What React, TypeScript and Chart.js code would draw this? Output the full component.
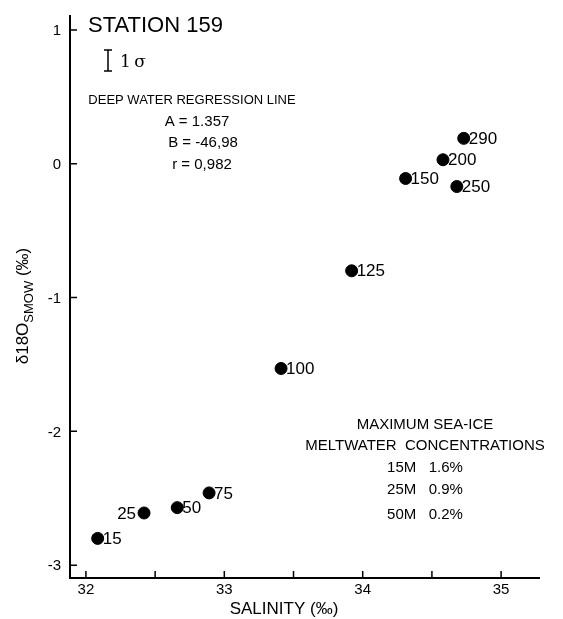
import React, { useEffect, useRef } from 'react';
import { Chart, registerables } from 'chart.js';

Chart.register(...registerables);

const depthLabels = ['15', '25', '50', '75', '100', '125', '150', '200', '250', '290'];
const salinity = [32.085, 32.42, 32.66, 32.89, 33.41, 33.92, 34.31, 34.58, 34.68, 34.73];
const delta18O = [-2.8, -2.61, -2.57, -2.46, -1.53, -0.8, -0.11, 0.03, -0.17, 0.19];
const leftLabelled = ['25'];
const xTicks = [32, 32.5, 33, 33.5, 34, 34.5, 35];
const xTickLabels = ['32', '', '33', '', '34', '', '35'];
const yTicks = [1, 0, -1, -2, -3];
const yTickLabels = ['1', '0', '-1', '-2', '-3'];

const titleText = 'STATION 159';
const xTitle = 'SALINITY (\u2030)';
const regressionLines = ['DEEP WATER REGRESSION LINE', 'A = 1.357', 'B = -46,98', 'r = 0,982'];
const meltLines = ['MAXIMUM SEA-ICE', 'MELTWATER  CONCENTRATIONS', '15M   1.6%', '25M   0.9%', '50M   0.2%'];

const FONT = '"Liberation Sans", Arial, sans-serif';

const decorPlugin = {
  id: 'decor',
  afterDraw(chart: any) {
    const ctx = chart.ctx;
    const xs = chart.scales.x;
    const ys = chart.scales.y;
    const area = chart.chartArea;
    ctx.save();
    ctx.strokeStyle = '#000';
    ctx.fillStyle = '#000';
    // axis lines
    ctx.lineWidth = 2;
    ctx.beginPath();
    ctx.moveTo(area.left, area.top);
    ctx.lineTo(area.left, area.bottom);
    ctx.lineTo(area.right, area.bottom);
    ctx.stroke();
    // inward ticks
    ctx.lineWidth = 1.5;
    ctx.beginPath();
    xTicks.forEach((v) => {
      const px = xs.getPixelForValue(v);
      ctx.moveTo(px, area.bottom);
      ctx.lineTo(px, area.bottom - 7);
    });
    yTicks.forEach((v) => {
      const py = ys.getPixelForValue(v);
      ctx.moveTo(area.left, py);
      ctx.lineTo(area.left + 7, py);
    });
    ctx.stroke();

    // tick labels
    ctx.font = `15px ${FONT}`;
    ctx.textBaseline = 'middle';
    ctx.textAlign = 'center';
    xTicks.forEach((v, i) => {
      if (xTickLabels[i]) ctx.fillText(xTickLabels[i], xs.getPixelForValue(v), area.bottom + 12);
    });
    ctx.textAlign = 'right';
    yTicks.forEach((v, i) => {
      ctx.fillText(yTickLabels[i], area.left - 9, ys.getPixelForValue(v) + 1);
    });

    // point labels
    const meta = chart.getDatasetMeta(0);
    ctx.font = `17px ${FONT}`;
    meta.data.forEach((el: any, i: number) => {
      const lbl = depthLabels[i];
      if (leftLabelled.includes(lbl)) {
        ctx.textAlign = 'right';
        ctx.fillText(lbl, el.x - 8, el.y + 1);
      } else {
        ctx.textAlign = 'left';
        ctx.fillText(lbl, el.x + 5, el.y + 1);
      }
    });

    // title
    ctx.textAlign = 'left';
    ctx.font = `22px ${FONT}`;
    ctx.fillText(titleText, 80, 18);

    // 1 sigma bar
    ctx.lineWidth = 1.5;
    ctx.beginPath();
    ctx.moveTo(100, 42); ctx.lineTo(100, 63);
    ctx.moveTo(96, 42); ctx.lineTo(104, 42);
    ctx.moveTo(96, 63); ctx.lineTo(104, 63);
    ctx.stroke();
    ctx.font = `17px "DejaVu Serif", serif`;
    ctx.fillText('1\u2009\u03c3', 112, 55);

    // regression block
    ctx.textAlign = 'center';
    ctx.font = `13px ${FONT}`;
    ctx.fillText(regressionLines[0], 184, 92);
    ctx.font = `15px ${FONT}`;
    const regY = [114, 135, 157];
    const regX = [189, 195, 194];
    regressionLines.slice(1).forEach((t, i) => ctx.fillText(t, regX[i], regY[i]));

    // meltwater block
    ctx.font = `15px ${FONT}`;
    const meltY = [417, 438, 460, 482, 507];
    meltLines.forEach((t, i) => ctx.fillText(t, 417, meltY[i]));

    // x axis title
    ctx.font = `17px ${FONT}`;
    ctx.fillText(xTitle, 276, 601);

    // y axis title (rotated, with subscript)
    ctx.save();
    ctx.translate(14, 298);
    ctx.rotate(-Math.PI / 2);
    ctx.textAlign = 'left';
    ctx.textBaseline = 'alphabetic';
    const big = `17px ${FONT}`;
    const small = `13px ${FONT}`;
    const parts = [
      { t: '\u03b418O', f: big, dy: 0 },
      { t: 'SMOW', f: small, dy: 5 },
      { t: ' (\u2030)', f: big, dy: 0 },
    ];
    let total = 0;
    parts.forEach((p) => { ctx.font = p.f; total += ctx.measureText(p.t).width; });
    let cx = -total / 2;
    parts.forEach((p) => {
      ctx.font = p.f;
      ctx.fillText(p.t, cx, 6 + p.dy);
      cx += ctx.measureText(p.t).width;
    });
    ctx.restore();

    ctx.restore();
  },
};

export default function App() {
  const ref = useRef<HTMLCanvasElement | null>(null);
  useEffect(() => {
    if (!ref.current) return;
    const chart = new Chart(ref.current, {
      type: 'scatter',
      data: {
        datasets: [
          {
            data: salinity.map((s, i) => ({ x: s, y: delta18O[i] })),
            backgroundColor: '#000',
            borderColor: '#000',
            pointRadius: 6,
            pointHoverRadius: 6,
          },
        ],
      },
      options: {
        animation: false,
        responsive: false,
        devicePixelRatio: 1,
        layout: { padding: { top: 2, right: 15, left: 62, bottom: 41 } },
        plugins: { legend: { display: false }, tooltip: { enabled: false } },
        scales: {
          x: {
            type: 'linear',
            display: false,
            min: 31.885,
            max: 35.281,
          },
          y: {
            type: 'linear',
            display: false,
            min: -3.096,
            max: 1.112,
          },
        },
      },
      plugins: [decorPlugin],
    });
    return () => chart.destroy();
  }, []);
  return (
    <div style={{ width: 547, height: 611 }}>
      <canvas ref={ref} width={547} height={611} style={{ display: 'block' }} />
    </div>
  );
}
